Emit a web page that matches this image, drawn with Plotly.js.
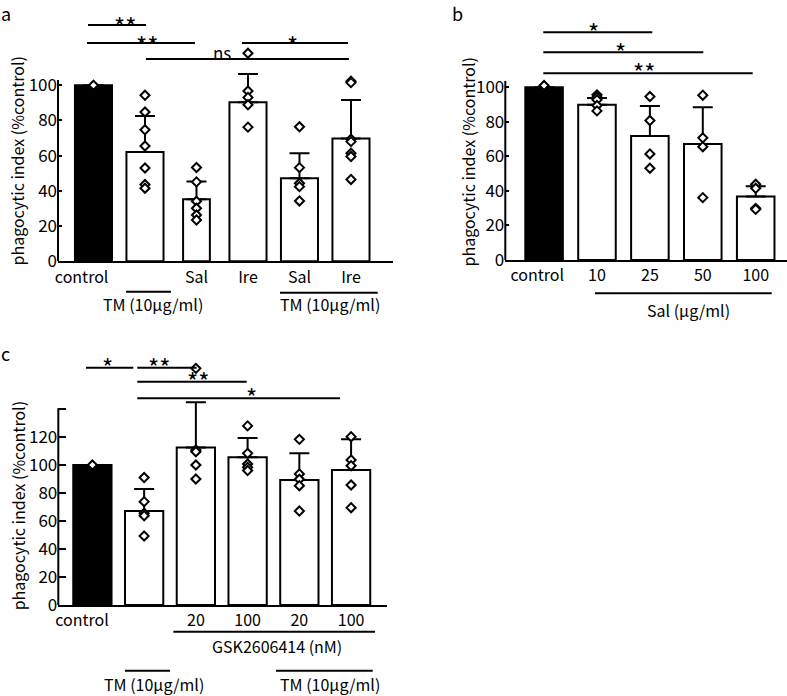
<!DOCTYPE html>
<html>
<head>
<meta charset="utf-8">
<script src="https://cdn.plot.ly/plotly-3.0.1.min.js"></script>
<style>html,body{margin:0;padding:0;background:#fff;}#chart{width:787px;height:696px;}</style>
</head>
<body>
<div id="chart"></div>
<script>
// ---------- Panel a ----------
const aCategories = ['control', '', 'Sal', 'Ire', 'Sal', 'Ire'];
const aMeans = [100, 62.1, 35.2, 90.3, 47.2, 69.7];
const aSD = [0, 20.5, 10.1, 16.1, 14.2, 22.0];
const aPoints = [
  [100],
  [94.3, 84.8, 74.7, 65.5, 53.0, 43.6, 41.5],
  [53.3, 45.1, 34.1, 30.1, 26.3, 23.5],
  [118.2, 96.7, 93.1, 88.9, 76.2],
  [76.4, 53.2, 44.3, 42.4, 34.3],
  [102.3, 101.5, 69.4, 68.0, 61.4, 59.5, 46.5]
];
const aGroupLabel = 'TM (10\u00B5g/ml)';

// ---------- Panel b ----------
const bCategories = ['control', '10', '25', '50', '100'];
const bMeans = [100, 89.8, 71.8, 67.2, 36.7];
const bSD = [0, 4, 17.4, 21.2, 6];
const bPoints = [
  [101],
  [95.6, 94.2, 92.7, 89.4, 86.3],
  [94.6, 80.7, 61.4, 53.1],
  [95.4, 70.7, 65.6, 36.1],
  [43.8, 41.5, 29.9, 29.3]
];
const bGroupLabel = 'Sal (\u00B5g/ml)';

// ---------- Panel c ----------
const cCategories = ['control', '', '20', '100', '20', '100'];
const cMeans = [100, 67.1, 112.4, 105.5, 89.3, 96.4];
const cSD = [0, 15.8, 32.4, 13.8, 19.0, 22.0];
const cPoints = [
  [100],
  [91.0, 73.8, 65.5, 63.8, 49.3],
  [169.0, 110.7, 109.5, 100.0, 90.0],
  [127.9, 108.3, 100.7, 98.3, 96.0],
  [118.3, 93.6, 89.8, 85.2, 67.1],
  [120.2, 103.6, 99.5, 85.7, 69.5]
];
const cGroupLabel = 'GSK2606414 (nM)';
const cTMLabel = 'TM (10\u00B5g/ml)';

const yTitle = 'phagocytic index (%control)';
const aTicks = [0, 20, 40, 60, 80, 100];
const bTicks = [0, 20, 40, 60, 80, 100];
const cTicks = [0, 20, 40, 60, 80, 100, 120, 140];
const cTickText = ['0', '20', '40', '60', '80', '100', '120', ''];

// significance comparisons: [from, to, label]
const aSig = [[0, 1, '**'], [0, 2, '**'], [1, 5, 'ns'], [3, 5, '*']];
const bSig = [[0, 2, '*'], [0, 3, '*'], [0, 4, '**']];
const cSig = [[0, 1, '*'], [1, 2, '**'], [1, 3, '**'], [1, 5, '*']];

// ---------- build ----------
const FONT = 'Noto Sans CJK JP, Noto Sans, sans-serif';
const W = 787, H = 696;
const px = x => x / W;
const py = y => 1 - y / H;

function barTrace(means, sd, xa, ya, widths) {
  return {
    type: 'bar', x: means.map((_, i) => i), y: means,
    xaxis: xa, yaxis: ya, width: widths,
    marker: { color: means.map((_, i) => i === 0 ? '#000' : '#fff'), line: { color: '#000', width: 2 } },
    error_y: { type: 'data', symmetric: false, array: sd, arrayminus: sd.map(() => 0), color: '#000', thickness: 2, width: 10 },
    hoverinfo: 'skip'
  };
}
function pointTrace(points, xa, ya) {
  const xs = [], ys = [];
  points.forEach((g, i) => g.forEach(v => { xs.push(i); ys.push(v); }));
  return {
    type: 'scatter', mode: 'markers', x: xs, y: ys, xaxis: xa, yaxis: ya,
    marker: { symbol: 'diamond', size: 7, color: '#fff', line: { color: '#000', width: 2 } },
    cliponaxis: false, hoverinfo: 'skip'
  };
}

const data = [
  barTrace(aMeans, aSD, 'x', 'y', [0.72, 0.72, 0.52, 0.72, 0.72, 0.72]),
  pointTrace(aPoints, 'x', 'y'),
  barTrace(bMeans, bSD, 'x2', 'y2', 0.71),
  pointTrace(bPoints, 'x2', 'y2'),
  barTrace(cMeans, cSD, 'x3', 'y3', 0.74),
  pointTrace(cPoints, 'x3', 'y3')
];

// the "control" label sits a little left of its bar in the original
function xAxis(domain, range, cats, ctrlShift) {
  return {
    domain: domain, range: range,
    tickvals: cats.map((_, i) => i === 0 ? i + ctrlShift : i), ticktext: cats,
    ticks: '', showline: true, linecolor: '#000', linewidth: 2,
    showgrid: false, zeroline: false, tickfont: { family: FONT, size: 16, color: '#000' }, fixedrange: true
  };
}
function yAxis(domain, range, tv, tt, len) {
  return {
    domain: domain, range: range, tickvals: tv, ticktext: tt || tv.map(String),
    ticks: 'inside', ticklen: len, tickwidth: 2, tickcolor: '#000',
    showline: false, showgrid: false, zeroline: false,
    tickfont: { family: FONT, size: 17, color: '#000' }, fixedrange: true
  };
}

const layout = {
  width: W, height: H, margin: { l: 0, r: 0, t: 0, b: 0 },
  paper_bgcolor: '#fff', plot_bgcolor: 'rgba(0,0,0,0)', showlegend: false,
  font: { family: FONT, color: '#000' },
  bargap: 0,
  xaxis: Object.assign(xAxis([px(58), px(393)], [-0.689, 5.816], aCategories, -0.23), { anchor: 'y' }),
  yaxis: Object.assign(yAxis([py(261.3), py(5)], [0, 145.6], aTicks, null, 4), { anchor: 'x' }),
  xaxis2: Object.assign(xAxis([px(505.3), px(786.7)], [-0.733, 4.586], bCategories, -0.13), { anchor: 'y2' }),
  yaxis2: Object.assign(yAxis([py(260), py(5)], [0, 147.6], bTicks, null, 4), { anchor: 'x2' }),
  xaxis3: Object.assign(xAxis([px(58.3), px(387)], [-0.659, 5.694], cCategories, -0.2), { anchor: 'y3' }),
  yaxis3: Object.assign(yAxis([py(605), py(330)], [0, 196.4], cTicks, cTickText, 8), { anchor: 'x3' }),
  shapes: [], annotations: []
};

// y axis lines (only up to the top tick region)
[['x', 'y', 103], ['x2', 'y2', 103.6], ['x3', 'y3', 140.5]].forEach(([xa, ya, top]) => {
  layout.shapes.push({ type: 'line', xref: xa + ' domain', yref: ya, x0: 0, x1: 0, y0: 0, y1: top, line: { color: '#000', width: 2 }, layer: 'above' });
});

// significance bars
function sigBars(sig, xa, ya, lineY, ends, textPos) {
  sig.forEach((s, k) => {
    layout.shapes.push({ type: 'line', xref: xa, yref: ya, x0: ends[k][0], x1: ends[k][1], y0: lineY[k], y1: lineY[k], line: { color: '#000', width: 2 } });
    const isStar = s[2] !== 'ns';
    layout.annotations.push({ xref: xa, yref: ya, x: textPos[k][0], y: textPos[k][1], text: s[2], showarrow: false,
      xanchor: 'center', yanchor: 'middle', font: { family: FONT, size: isStar ? 24 : 17, color: '#000' }, yshift: isStar ? -7 : 0 });
  });
}
sigBars(aSig, 'x', 'y', [134.3, 124.0, 114.9, 124.0],
  [[-0.107, 1.019], [-0.126, 1.97], [1.019, 4.961], [2.883, 4.942]],
  [[0.61, 138.2], [1.039, 127.4], [2.495, 118.9], [3.874, 127.4]]);
sigBars(bSig, 'x2', 'y2', [131.8, 120.3, 108.1],
  [[-0.015, 2.045], [-0.015, 3.009], [-0.015, 3.943]],
  [[0.943, 136.1], [1.435, 124.5], [1.888, 112.9]]);
sigBars(cSig, 'x3', 'y3', [169.5, 169.5, 159.5, 147.6],
  [[-0.124, 0.79], [0.867, 2.015], [0.867, 2.982], [0.867, 4.785]],
  [[0.301, 175], [1.287, 175], [2.041, 165], [3.078, 153.6]]);

// group lines and labels below axes (paper coords)
function groupLine(x0, x1, y) {
  layout.shapes.push({ type: 'line', xref: 'paper', yref: 'paper', x0: px(x0), x1: px(x1), y0: py(y), y1: py(y), line: { color: '#000', width: 2 } });
}
function label(text, x, y, size, angle) {
  layout.annotations.push({ xref: 'paper', yref: 'paper', x: px(x), y: py(y), text: text, showarrow: false,
    xanchor: 'center', yanchor: 'middle', textangle: angle || 0, font: { family: FONT, size: size || 16, color: '#000' } });
}
groupLine(126, 171, 291.7); label(aGroupLabel, 153.3, 304);
groupLine(280, 377.7, 292.7); label(aGroupLabel, 330, 304);
groupLine(595, 771.7, 293.3); label(bGroupLabel, 688, 310);
groupLine(173.3, 375, 631.7); label(cGroupLabel, 276.7, 646);
groupLine(125, 170, 670.7); label(cTMLabel, 154, 684);
groupLine(276, 372.7, 670.7); label(cTMLabel, 330, 684);

// y titles
label(yTitle, 16, 161.5, 16, -90);
label(yTitle, 468, 162.5, 16, -90);
label(yTitle, 17.5, 505.8, 16, -90);

// panel letters
label('a', 6, 13, 18);
label('b', 457, 13, 18);
label('c', 5, 353, 18);

Plotly.newPlot('chart', data, layout, { staticPlot: true, displayModeBar: false });
</script>
</body>
</html>
